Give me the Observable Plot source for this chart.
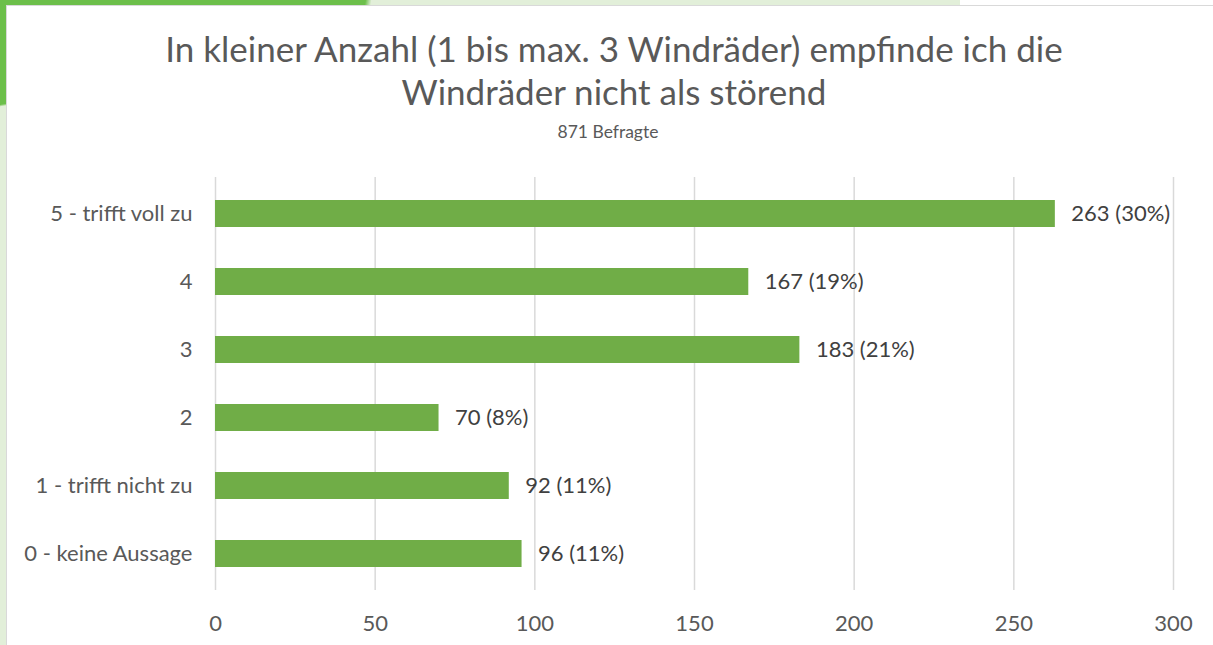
<!DOCTYPE html>
<html>
<head>
<meta charset="utf-8">
<script src="https://cdn.jsdelivr.net/npm/d3@7"></script>
<script src="https://cdn.jsdelivr.net/npm/@observablehq/plot@0.6"></script>
<style>
  html, body { margin: 0; padding: 0; background: #ffffff; }
  #page { position: relative; width: 1213px; height: 645px; overflow: hidden; background: #e2efd9; font-family: Lato, "Open Sans", sans-serif; }
  #topband { position: absolute; left: 0; top: 0; width: 960px; height: 6px; background: linear-gradient(100deg, #6cbf4a 0, #6cbf4a 360px, #e2efd9 366px, #e2efd9 950px, #ffffff 956px); }
  #leftband { position: absolute; left: 0; top: 0; width: 7px; height: 110px; background: linear-gradient(170deg, #6cbf4a 0, #6cbf4a 94%, #e2efd9 96%); }
  #card { position: absolute; left: 6px; top: 5px; width: 1220px; height: 660px; background: #ffffff; border: 1.5px solid #d9d9d9; box-sizing: border-box; }
  #topwhite { position: absolute; left: 960px; top: 0; width: 260px; height: 6px; background: #ffffff; }
  .title { position: absolute; left: 0; width: 1228px; text-align: center; color: #595959; white-space: nowrap; }
  #t1 { top: 27px; font-size: 35px; }
  #t2 { top: 70px; font-size: 35px; }
  #sub { top: 121px; font-size: 17.5px; left: -6px; }
  #chart { position: absolute; left: 0; top: 138px; }
</style>
</head>
<body>
<div id="page">
  <div id="topwhite"></div>
  <div id="topband"></div>
  <div id="leftband"></div>
  <div id="card"></div>
  <div class="title" id="t1">In kleiner Anzahl (1 bis max. 3 Windräder) empfinde ich die</div>
  <div class="title" id="t2">Windräder nicht als störend</div>
  <div class="title" id="sub">871 Befragte</div>
  <div id="chart"></div>
</div>
<script>
const categories = ["5 - trifft voll zu", "4", "3", "2", "1 - trifft nicht zu", "0 - keine Aussage"];
const counts = [263, 167, 183, 70, 92, 96];
const percents = ["30%", "19%", "21%", "8%", "11%", "11%"];
const xTicks = [0, 50, 100, 150, 200, 250, 300];

const data = categories.map((c, i) => ({cat: c, n: counts[i], label: `${counts[i]} (${percents[i]})`}));

const chart = Plot.plot({
  width: 1213,
  height: 500,
  marginLeft: 215,
  marginRight: 40,
  marginTop: 39,
  marginBottom: 48,
  x: {domain: [0, 300], ticks: xTicks, label: null},
  y: {domain: categories, paddingInner: 0.6, paddingOuter: 0.3, label: null},
  style: {fontFamily: "Lato, 'Open Sans', sans-serif", fontSize: "22px", color: "#595959", background: "transparent"},
  marks: [
    Plot.gridX(xTicks, {stroke: "#d9d9d9", strokeOpacity: 1, strokeWidth: 1.5}),
    Plot.barX(data, {x: "n", y: "cat", fill: "#70ad47"}),
    Plot.text(data, {x: "n", y: "cat", text: "label", textAnchor: "start", dx: 16, fill: "#404040"}),
    Plot.axisX(xTicks, {tickSize: 0, tickPadding: 25, label: null}),
    Plot.axisY({tickSize: 0, tickPadding: 23, label: null})
  ]
});
document.getElementById("chart").appendChild(chart);
</script>
</body>
</html>
